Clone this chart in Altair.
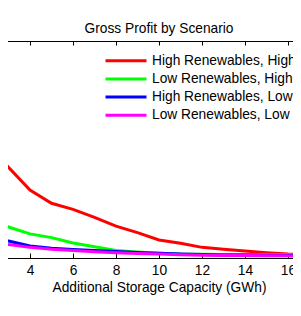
import altair as alt
import pandas as pd

# ---- data ----
capacity = [2, 3, 4, 5, 6, 7, 8, 9, 10, 11, 12, 13, 14, 15, 16, 17, 18]
series_names = [
    "High Renewables, High Gas Prices",
    "Low Renewables, High Gas Prices",
    "High Renewables, Low Gas Prices",
    "Low Renewables, Low Gas Prices",
]
series_colors = ["#ff0000", "#00ff00", "#0000ff", "#ff00ff"]
hr_hg = [5.23, 4.18, 3.13, 2.52, 2.24, 1.87, 1.47, 1.17, 0.83, 0.68, 0.49, 0.40, 0.32, 0.24, 0.18, 0.15, 0.13]
lr_hg = [2.03, 1.43, 1.11, 0.94, 0.69, 0.52, 0.35, 0.28, 0.22, 0.18, 0.17, 0.16, 0.16, 0.16, 0.16, 0.16, 0.16]
hr_lg = [1.01, 0.78, 0.55, 0.45, 0.39, 0.35, 0.30, 0.25, 0.22, 0.18, 0.16, 0.14, 0.14, 0.13, 0.13, 0.13, 0.13]
lr_lg = [0.81, 0.62, 0.49, 0.40, 0.34, 0.29, 0.24, 0.21, 0.18, 0.15, 0.13, 0.12, 0.11, 0.10, 0.10, 0.09, 0.09]
x_ticks = [2, 4, 6, 8, 10, 12, 14, 16, 18]

rows = []
for name, vals in zip(series_names, [hr_hg, lr_hg, hr_lg, lr_lg]):
    for c, v in zip(capacity, vals):
        rows.append({"capacity": c, "profit": v, "series": name})
df = pd.DataFrame(rows)

FONT = "Liberation Sans"
FS = 13.75

xscale = alt.Scale(domain=[2, 18], nice=False, zero=False)
yscale = alt.Scale(domain=[0, 10], nice=False, zero=False)

lines = alt.Chart(df).mark_line(strokeWidth=3).encode(
    x=alt.X(
        "capacity:Q",
        scale=xscale,
        axis=alt.Axis(
            orient="bottom", offset=-5, domain=False, ticks=True, tickSize=5,
            tickColor="black", values=x_ticks, labelPadding=5, labelFlush=False,
            labelFont=FONT, labelFontSize=FS, labelColor="black", grid=False,
            title="Additional Storage Capacity (GWh)", titleFont=FONT,
            titleFontSize=FS, titleFontWeight="normal", titleColor="black",
            titleBaseline="top", titleY=27,
        ),
    ),
    y=alt.Y("profit:Q", scale=yscale, axis=None),
    color=alt.Color(
        "series:N",
        scale=alt.Scale(domain=series_names, range=series_colors),
        sort=series_names,
        legend=alt.Legend(
            orient="none", legendX=117, legendY=11.7, title=None,
            symbolType="stroke", symbolSize=1681, symbolStrokeWidth=3,
            labelFont=FONT, labelFontSize=FS, labelColor="black",
            labelLimit=400, labelOffset=4, clipHeight=16, rowPadding=2.2,
            padding=0,
        ),
    ),
)

top_ticks = alt.Chart(df).mark_line(opacity=0).encode(
    x=alt.X(
        "capacity:Q",
        scale=xscale,
        axis=alt.Axis(
            orient="top", offset=-4, domain=False, labels=False, ticks=True,
            tickSize=4, tickColor="black", values=x_ticks, title=None, grid=False,
        ),
    ),
    y=alt.Y("profit:Q", scale=yscale, axis=None),
    detail="series:N",
)

chart = (
    alt.layer(lines, top_ticks)
    .resolve_axis(x="independent")
    .properties(
        width=344,
        height=217,
        autosize=alt.AutoSizeParams(type="none"),
        padding={"left": -21, "top": 33, "right": -38, "bottom": 40},
        title=alt.Title(
            "Gross Profit by Scenario", font=FONT, fontSize=FS,
            fontWeight="normal", color="black", anchor="middle",
            baseline="alphabetic", offset=9, dy=15,
        ),
    )
    .configure_view(stroke="black", strokeWidth=1)
)

chart.save("out.html", embed_options={"renderer": "svg", "actions": False})
